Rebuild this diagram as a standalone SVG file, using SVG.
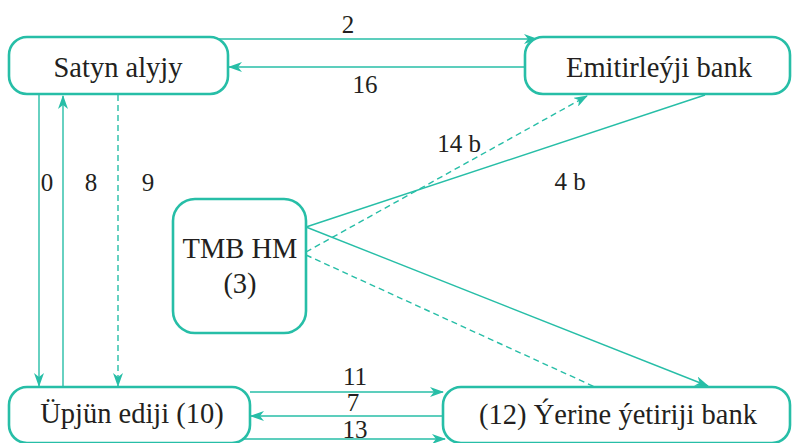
<svg xmlns="http://www.w3.org/2000/svg" width="792" height="443" viewBox="0 0 792 443">
<style>
.box{fill:#fff;stroke:#27bea7;stroke-width:2.6}
.ln{fill:none;stroke:#27bea7;stroke-width:1.4}
.ds{stroke-dasharray:6 4}
.t{font-family:'Liberation Serif','Times New Roman',serif;fill:#231f20;text-anchor:middle}
.nt{font-size:28.5px}
.lb{font-size:25px}
</style>
<defs>
<marker id="ah" viewBox="0 0 14 10" refX="13" refY="5" markerWidth="14" markerHeight="10" markerUnits="userSpaceOnUse" orient="auto">
<path d="M0,0 L14,5 L0,10 L4,5 z" fill="#27bea7"/>
</marker>
</defs>
<g id="connectors">
<line class="ln" x1="218" y1="39" x2="537" y2="39" marker-end="url(#ah)"/>
<line class="ln" x1="525" y1="67" x2="229" y2="67" marker-end="url(#ah)"/>
<line class="ln" x1="39" y1="95" x2="39" y2="386" marker-end="url(#ah)"/>
<line class="ln" x1="63" y1="386" x2="63" y2="96" marker-end="url(#ah)"/>
<line class="ln ds" x1="118" y1="95" x2="118" y2="386" marker-end="url(#ah)"/>
<line class="ln" x1="306" y1="227" x2="705" y2="95"/>
<line class="ln ds" x1="306" y1="252" x2="587" y2="96" marker-end="url(#ah)"/>
<line class="ln" x1="306" y1="227" x2="708" y2="386" marker-end="url(#ah)"/>
<line class="ln ds" x1="306" y1="255" x2="595" y2="387"/>
<line class="ln" x1="250" y1="392" x2="443" y2="392" marker-end="url(#ah)"/>
<line class="ln" x1="443" y1="416" x2="251" y2="416" marker-end="url(#ah)"/>
<line class="ln" x1="240" y1="439" x2="445" y2="439" marker-end="url(#ah)"/>
</g>
<g id="labels">
<text class="t lb" x="348" y="33">2</text>
<text class="t lb" x="365" y="93">16</text>
<text class="t lb" x="47" y="191">0</text>
<text class="t lb" x="91" y="191">8</text>
<text class="t lb" x="148" y="191">9</text>
<text class="t lb" x="459" y="152">14 b</text>
<text class="t lb" x="570" y="190">4 b</text>
<text class="t lb" x="355" y="385">11</text>
<text class="t lb" x="353" y="411">7</text>
<text class="t lb" x="355" y="438">13</text>
</g>
<g id="satyn">
<rect class="box" x="9" y="37" width="219" height="57" rx="18"/>
<text class="t nt" x="118" y="77">Satyn alyjy</text>
</g>
<g id="emitir">
<rect class="box" x="525" y="37" width="265" height="57" rx="18"/>
<text class="t nt" x="659" y="77">Emitirleýji bank</text>
</g>
<g id="tmb">
<rect class="box" x="173" y="199" width="133" height="134" rx="22"/>
<text class="t nt" x="240" y="258">TMB HM</text>
<text class="t nt" x="240" y="293">(3)</text>
</g>
<g id="upjun">
<rect class="box" x="9" y="387" width="241" height="56" rx="18"/>
<text class="t nt" x="132" y="423">Üpjün ediji (10)</text>
</g>
<g id="yerine">
<rect class="box" x="443" y="387" width="347" height="56" rx="18"/>
<text class="t nt" x="618" y="424">(12) Ýerine ýetiriji bank</text>
</g>
</svg>
